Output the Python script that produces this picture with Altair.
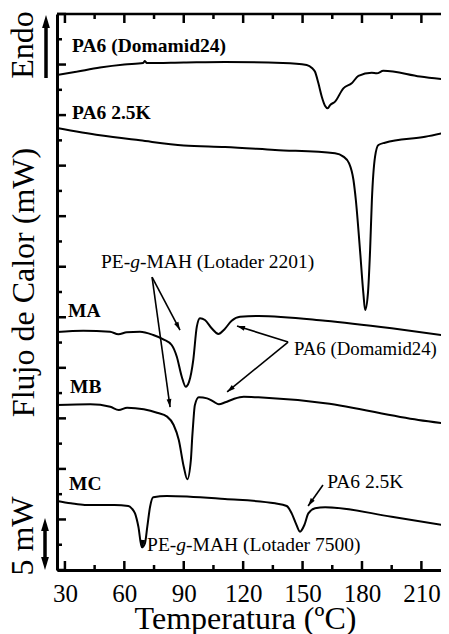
import math
import altair as alt
import pandas as pd

FONT = "'Liberation Serif', 'Times New Roman', Times, 'DejaVu Serif', serif"

# ---- curves: temperature (°C) and stacked heat flow (mW) ----
pa6_T = [26, 35, 47.7, 60, 69.5, 70.4, 71.3, 90, 110.8, 140, 152.1, 154.9, 156.3, 158, 159.7,
         161.4, 162.7, 163.9, 166.4, 170.6, 174.8, 178.2, 184.9, 187.5, 190.8, 209.3, 224]
pa6_v = [48.97, 49.26, 49.7, 50.0, 50.15, 50.35, 50.15, 50.2, 50.25, 50.15, 49.96, 49.63, 49.29, 48.14, 46.82,
         45.90, 45.67, 45.99, 46.33, 47.65, 48.14, 48.87, 49.19, 49.13, 49.39, 48.82, 48.47]

pa625_T = [26, 47.7, 67.9, 90, 110.8, 136.1, 166.4, 170.6, 173.5, 175.7, 176.9, 179, 180.7, 181.6,
           183, 184.1, 185, 186.6, 188.3, 191.6, 211.9, 224]
pa625_v = [43.72, 43.0, 42.5, 42.0, 41.84, 41.55, 41.22, 40.89, 40.23, 38.58, 36.6, 31.65, 27.37, 25.72,
           27.37, 31.65, 36.6, 40.89, 42.04, 42.27, 42.86, 43.36]

ma_T = [26, 39.3, 52.8, 57, 61.2, 67.9, 74.6, 79.7, 83.9, 86.5, 89, 91, 92.7, 94.8, 96.6, 98.2,
        100.7, 104.1, 107.5, 110.5, 114.2, 118.4, 127.7, 161.4, 195, 224]
ma_v = [23.54, 23.67, 23.57, 23.32, 23.51, 23.57, 23.25, 22.82, 22.26, 21.1, 19.12, 18.13, 18.63, 20.77, 24.07, 24.9,
        24.73, 23.91, 23.35, 23.8, 24.66, 25.06, 25.13, 24.66, 23.91, 23.15]

mb_T = [26, 42.8, 52.9, 57.2, 61.4, 69.8, 76.5, 81.6, 84.9, 87.5, 90, 91.8, 93.6, 94.3, 94.9, 95.6,
        97.6, 101.8, 105.1, 107.7, 111, 115.2, 120.3, 127.7, 161.4, 208.5, 224]
mb_v = [16.32, 16.39, 16.15, 15.83, 16.06, 15.9, 15.56, 15.17, 14.34, 12.86, 10.22, 8.97, 10.88, 13.19, 14.84, 16.3,
        17.08, 16.98, 16.65, 16.39, 16.59, 16.92, 17.14, 17.08, 16.49, 14.84, 14.44]

mc_T = [26, 33, 40, 55, 62, 63.7, 65.4, 67.1, 68.8, 70.4, 71.6, 73, 74.6, 81.4, 110.8, 136.1, 142,
        144.5, 146.6, 148.7, 150.9, 152.9, 156.3, 161.4, 195, 224]
mc_v = [6.83, 6.6, 6.43, 6.43, 6.33, 6.1, 5.6, 4.28, 2.24, 2.64, 4.28, 6.26, 7.19, 7.32, 7.02, 6.6, 6.33,
        5.6, 4.62, 3.79, 4.45, 5.6, 6.1, 6.2, 5.27, 4.35]

# ---- ticks ----
x_major = [30, 60, 90, 120, 150, 180, 210]
x_minor = [45, 75, 105, 135, 165, 195]
y_major = [0, 5, 10, 15, 20, 25, 30, 35, 40, 45, 50, 55]
y_minor = [2.5, 7.5, 12.5, 17.5, 22.5, 27.5, 32.5, 37.5, 42.5, 47.5, 52.5]

# ---- labels ----
bold_text = ["PA6 (Domamid24)", "PA6 2.5K", "MA", "MB", "MC"]
bold_T = [33.6, 33.6, 31.6, 32.6, 32.1]
bold_v = [51.24, 44.61, 25.03, 17.51, 7.91]

note_text = ["PA6 (Domamid24)", "PA6 2.5K"]
note_T = [145.7, 162.4]
note_v = [21.27, 8.11]
note_size = [18.8, 19.5]

lot_T = [48.2, 71.5]
lot_v = [29.87, 1.88]
lot_pre = ["PE-", "PE-"]
lot_ital = ["g", "g"]
lot_post = ["-MAH (Lotader 2201)", "-MAH (Lotader 7500)"]

arr_T1 = [74.0, 74.0, 142.7, 142.7, 160.3, 69.4]
arr_v1 = [28.98, 28.98, 22.55, 22.55, 8.41, 2.97]
arr_T2 = [88.1, 83.1, 116.9, 111.9, 152.8, 68.9]
arr_v2 = [23.74, 16.12, 24.14, 17.61, 6.33, 2.18]

W, H = 384, 556
XDOM = [26, 219.9]
YDOM = [0, 55]
pxT = W / (XDOM[1] - XDOM[0])
pxV = H / (YDOM[1] - YDOM[0])

xscale = alt.Scale(domain=XDOM, nice=False, zero=False)
yscale = alt.Scale(domain=YDOM, nice=False, zero=False)

xaxis = alt.Axis(values=x_major, format="d", title="Temperatura (ºC)",
                 labelFont=FONT, labelFontSize=25, labelColor="black",
                 labelBaseline="alphabetic", labelPadding=31, labelFlush=False,
                 ticks=False, tickSize=0, domainWidth=3, domainColor="black", grid=False,
                 titleFont=FONT, titleFontSize=32, titleFontWeight="normal", titleColor="black",
                 titleX=188, titleY=58, titleBaseline="alphabetic", titleAlign="center")
yaxis = alt.Axis(labels=False, ticks=False, tickSize=0, domainWidth=3, domainColor="black", grid=False,
                 title="Flujo de Calor (mW)", titleFont=FONT, titleFontSize=32,
                 titleFontWeight="normal", titleColor="black", titleAngle=270,
                 titleX=-24, titleY=268, titleBaseline="alphabetic", titleAlign="center")


def X(f="T"):
    return alt.X(f, type="quantitative", scale=xscale, axis=xaxis)


def Y(f="v"):
    return alt.Y(f, type="quantitative", scale=yscale, axis=yaxis)


rows = []
for name, Ts, vs in [("PA6", pa6_T, pa6_v), ("PA6 2.5K", pa625_T, pa625_v), ("MA", ma_T, ma_v),
                     ("MB", mb_T, mb_v), ("MC", mc_T, mc_v)]:
    for i, (t, v) in enumerate(zip(Ts, vs)):
        rows.append({"series": name, "i": i, "T": t, "v": v})
curves_df = pd.DataFrame(rows)

curves = alt.Chart(curves_df).mark_line(color="black", strokeWidth=2, interpolate="monotone", clip=True).encode(
    x=X(), y=Y(), detail="series:N", order="i:Q")

xmaj = pd.DataFrame({"T": x_major})
xmin = pd.DataFrame({"T": x_minor})
ymaj = pd.DataFrame({"v": y_major})
ymin = pd.DataFrame({"v": y_minor})

tick_layers = [
    alt.Chart(xmaj).mark_rule(color="black", strokeWidth=2.5).encode(x=X(), y=alt.value(H), y2=alt.value(H - 9)),
    alt.Chart(xmin).mark_rule(color="black", strokeWidth=2.5).encode(x=X(), y=alt.value(H), y2=alt.value(H - 5)),
    alt.Chart(xmaj).mark_rule(color="black", strokeWidth=2.5).encode(x=X(), y=alt.value(0), y2=alt.value(9)),
    alt.Chart(xmin).mark_rule(color="black", strokeWidth=2.5).encode(x=X(), y=alt.value(0), y2=alt.value(5)),
    alt.Chart(ymaj).mark_rule(color="black", strokeWidth=2.5).encode(y=Y(), x=alt.value(0), x2=alt.value(9)),
    alt.Chart(ymin).mark_rule(color="black", strokeWidth=2.5).encode(y=Y(), x=alt.value(0), x2=alt.value(5)),
]

one = pd.DataFrame({"a": [0]})
top_line = alt.Chart(one).mark_rule(color="black", strokeWidth=2.5).encode(
    x=alt.value(0), x2=alt.value(W), y=alt.value(0))

bold_df = pd.DataFrame({"T": bold_T, "v": bold_v, "text": bold_text})
bold = alt.Chart(bold_df).mark_text(align="left", baseline="alphabetic", font=FONT, fontSize=19.5,
                                    fontWeight="bold", color="black").encode(x=X(), y=Y(), text="text:N")

note_df = pd.DataFrame({"T": note_T, "v": note_v, "text": note_text, "fs": note_size})
notes = alt.Chart(note_df).mark_text(align="left", baseline="alphabetic", font=FONT,
                                     color="black").encode(
    x=X(), y=Y(), text="text:N", size=alt.Size("fs:Q", scale=None, legend=None))

FS = 19.5
lot_layers = []
for col, dx, style in [(lot_pre, 0, "normal"), (lot_ital, 1.5 * FS, "italic"), (lot_post, 2.0 * FS, "normal")]:
    df = pd.DataFrame({"T": lot_T, "v": lot_v, "text": col})
    lot_layers.append(alt.Chart(df).mark_text(align="left", baseline="alphabetic", font=FONT, fontSize=FS,
                                              fontStyle=style, color="black", dx=dx).encode(
        x=X(), y=Y(), text="text:N"))

HEAD = "M0,0L0.6,2L-0.6,2Z"
angs = []
for t1, v1, t2, v2 in zip(arr_T1, arr_v1, arr_T2, arr_v2):
    dxp = (t2 - t1) * pxT
    dyp = -(v2 - v1) * pxV
    angs.append(math.degrees(math.atan2(dxp, -dyp)) % 360)
arr_df = pd.DataFrame({"T": arr_T1, "v": arr_v1, "T2": arr_T2, "v2": arr_v2, "ang": angs})
arr_lines = alt.Chart(arr_df).mark_rule(color="black", strokeWidth=1.6).encode(
    x=X(), y=Y(), x2="T2:Q", y2="v2:Q")
arr_heads = alt.Chart(arr_df).mark_point(shape=HEAD, filled=True, color="black", opacity=1, size=64,
                                         strokeWidth=0).encode(
    x=X("T2"), y=Y("v2"), angle=alt.Angle("ang:Q", scale=None))

# Endo arrow and 5 mW scale bar in the left margin
side_text = alt.Chart(pd.DataFrame({"text": ["Endo", "5 mW"], "py": [31, 522]})).mark_text(
    angle=270, align="center", baseline="alphabetic", font=FONT, fontSize=32, color="black").encode(
    x=alt.value(-24), y=alt.Y("py:Q", scale=None), text="text:N")
endo_line = alt.Chart(one).mark_rule(color="black", strokeWidth=3.5).encode(
    x=alt.value(-11), y=alt.value(10), y2=alt.value(64))
endo_head = alt.Chart(one).mark_point(shape=HEAD, filled=True, color="black", opacity=1, size=169,
                                      strokeWidth=0).encode(x=alt.value(-11), y=alt.value(1), angle=alt.value(0))
bar_line = alt.Chart(one).mark_rule(color="black", strokeWidth=3.5).encode(
    x=alt.value(-12), y=alt.value(512), y2=alt.value(548))
bar_head_top = alt.Chart(one).mark_point(shape=HEAD, filled=True, color="black", opacity=1, size=169,
                                         strokeWidth=0).encode(x=alt.value(-12), y=alt.value(504), angle=alt.value(0))
bar_head_bot = alt.Chart(one).mark_point(shape=HEAD, filled=True, color="black", opacity=1, size=169,
                                         strokeWidth=0).encode(x=alt.value(-12), y=alt.value(556), angle=alt.value(180))

chart = alt.layer(
    curves, *tick_layers, top_line, bold, notes, *lot_layers, arr_lines, arr_heads,
    side_text, endo_line, endo_head, bar_line, bar_head_top, bar_head_bot
).properties(
    width=W, height=H,
    padding={"left": 49, "top": 6, "right": 0, "bottom": 64},
    autosize=alt.AutoSizeParams(type="none"),
).configure_view(stroke=None).configure(background="white")

chart.save("out.html", embed_options={"renderer": "svg", "actions": False})
